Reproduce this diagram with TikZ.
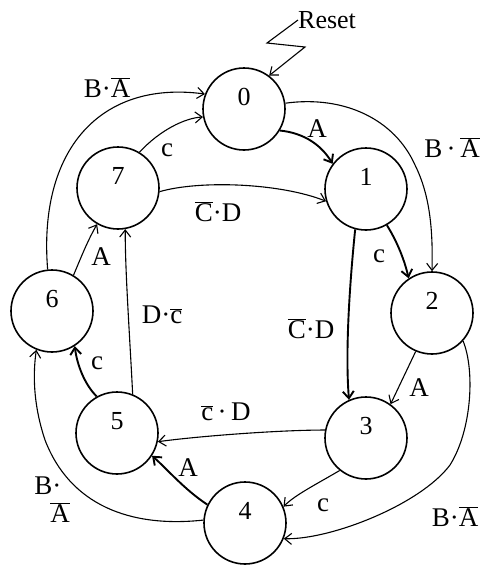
\documentclass[tikz,border=0pt]{standalone}
\usepackage{fontspec}
\setmainfont{Liberation Serif}
\usetikzlibrary{arrows.meta}
\newcommand{\ovl}[1]{\ensuremath{\overline{\mbox{#1}}}}
\begin{document}
\begin{tikzpicture}[x=1pt,y=-1pt,
  st/.style={circle,draw,line width=1.6pt,minimum size=82pt,inner sep=0pt,
    font=\fontsize{26}{30}\selectfont,text height=18pt,text depth=26pt},
  arr/.style={line width=1.1pt,-{Straight Barb[length=7pt,width=11pt]}},
  tarr/.style={arr,line width=1.9pt},
  lbl/.style={font=\fontsize{27}{28}\selectfont,inner sep=1pt},
  slbl/.style={font=\fontsize{26}{30}\selectfont,inner sep=1pt}]
\useasboundingbox (0,0) rectangle (484,566);

% states
\node[st] (n0) at (244,109) {0};
\node[st] (n1) at (366,189) {1};
\node[st] (n2) at (432,313) {2};
\node[st] (n3) at (366,438) {3};
\node[st] (n4) at (245,523) {4};
\node[st] (n5) at (117,433) {5};
\node[st] (n6) at (52,311) {6};
\node[st] (n7) at (118,188) {7};

% reset
\node[slbl,anchor=west,inner sep=0pt] (reset) at (298,20) {Reset};
\draw[arr] (reset.west) -- (267,43) -- (305,47) -- (n0.53);

% transitions
\draw[tarr] (n0.-31) .. controls (305,133) and (322,146) .. (n1.143);
\node[lbl] (l01) at (317,129) {A};

\draw[arr] (n0.8) .. controls (345,95) and (395,120) .. (415,165)
  .. controls (430,195) and (433,230) .. (n2.90);
\node[lbl] (l02) at (452,148) {B\,·\,\ovl{A}};

\draw[arr] (n7.59) .. controls (160,130) and (185,118) .. (n0.-169);
\node[lbl] (l70) at (167,150) {c};

\draw[arr] (n6.96) .. controls (38,150) and (100,80) .. (n0.159);
\node[lbl] (l60) at (107,88) {B·\ovl{A}};

\draw[arr] (n7.-5) .. controls (200,180) and (280,183) .. (n1.-163);
\node[lbl] (l71) at (218,212) {\ovl{C}·D};

\draw[tarr] (n1.-60) .. controls (398,243) and (405,262) .. (n2.124);
\node[lbl] (l12) at (379,256) {c};

\draw[tarr] (n1.-105) .. controls (350,280) and (345,350) .. (n3.114);
\node[lbl] (l13) at (311,329) {\ovl{C}·D};

\draw[arr] (n2.-113) -- (n3.54);
\node[lbl] (l23) at (419,388) {A};

\draw[arr] (n2.-42) .. controls (475,370) and (472,430) .. (450,465)
  .. controls (420,505) and (330,540) .. (n4.-22);
\node[lbl] (l24) at (455,517) {B·\ovl{A}};

\draw[arr] (n3.169) .. controls (280,430) and (200,436) .. (n5.-12);
\node[lbl] (l35) at (226,412) {\ovl{c}\,·\,D};

\draw[arr] (n3.-129) .. controls (315,485) and (295,495) .. (n4.23);
\node[lbl] (l34) at (323,505) {c};

\draw[tarr] (n4.154) .. controls (185,490) and (168,470) .. (n5.-33);
\node[lbl] (l45) at (188,468) {A};

\draw[arr] (n4.176) .. controls (130,528) and (70,505) .. (45,440)
  .. controls (35,410) and (32,380) .. (n6.-112);
\node[lbl,align=left] (l46) at (52,500) {B·\\[0pt]\hspace*{16pt}\ovl{A}};

\draw[tarr] (n5.119) .. controls (85,385) and (77,365) .. (n6.-57);
\node[lbl] (l56) at (97,363) {c};

\draw[arr] (n5.68) .. controls (130,340) and (125,270) .. (n7.-80);
\node[lbl] (l57) at (162,315) {D·\ovl{c}};

\draw[arr] (n6.59) .. controls (82,255) and (88,240) .. (n7.-120);
\node[lbl] (l67) at (101,257) {A};
\end{tikzpicture}
\end{document}
